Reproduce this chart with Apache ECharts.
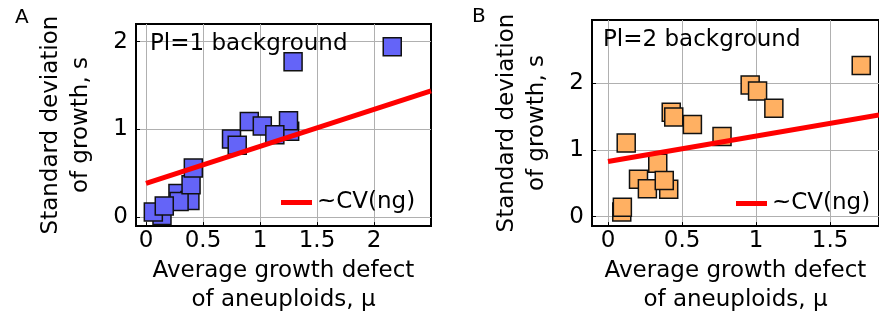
<!DOCTYPE html>
<html>
<head>
<meta charset="utf-8">
<script src="https://cdn.jsdelivr.net/npm/echarts@6/dist/echarts.min.js"></script>
<style>
html,body{margin:0;padding:0;background:#fff;}
#chart{width:879px;height:320px;}
</style>
</head>
<body>
<div id="chart"></div>
<script>
// Panel A (Pl=1 background)
const muA = [0.14, 0.064, 0.28, 0.385, 0.29, 0.16, 0.395, 0.415, 0.75, 0.80, 0.906, 1.02, 1.26, 1.25, 1.13, 1.29, 2.16];
const sA  = [0.02, 0.06, 0.27, 0.19, 0.18, 0.13, 0.37, 0.56, 0.89, 0.82, 1.09, 1.04, 0.98, 1.10, 0.94, 1.77, 1.94];
const fitAx = [0, 2.5];
const fitAy = [0.385, 1.44];
// Panel B (Pl=2 background)
const muB = [0.093, 0.097, 0.123, 0.336, 0.206, 0.41, 0.266, 0.38, 0.427, 0.444, 0.57, 0.77, 0.96, 1.01, 1.12, 1.71];
const sB  = [0.07, 0.14, 1.10, 0.80, 0.56, 0.41, 0.42, 0.54, 1.56, 1.49, 1.38, 1.20, 1.97, 1.88, 1.62, 2.26];
const fitBx = [0, 1.83];
const fitBy = [0.826, 1.52];
// Ticks
const xTicksA = [0, 0.5, 1, 1.5, 2];
const yTicksA = [0, 1, 2];
const xTicksB = [0, 0.5, 1, 1.5];
const yTicksB = [0, 1, 2];

const FONT = 'DejaVu Sans';
const FS = 23;
const zip = (a, b) => a.map((v, i) => [v, b[i]]);

function xAxisCfg(gi, min, max, ticks) {
  return {
    type: 'value', gridIndex: gi, min: min, max: max,
    name: 'Average growth defect\nof aneuploids, μ',
    nameLocation: 'middle', nameGap: 27,
    nameTextStyle: {fontFamily: FONT, fontSize: FS, color: '#000', lineHeight: 29},
    axisLine: {show: true, onZero: false, lineStyle: {color: '#000', width: 2}},
    axisTick: {show: true, inside: true, length: 4, customValues: ticks, lineStyle: {color: '#000'}},
    axisLabel: {customValues: ticks, margin: 3, fontFamily: FONT, fontSize: FS, color: '#000',
      formatter: v => String(v)},
    splitLine: {show: true, customValues: ticks, lineStyle: {color: '#b0b0b0', width: 1}}
  };
}
function yAxisCfg(gi, min, max, ticks) {
  return {
    type: 'value', gridIndex: gi, min: min, max: max,
    name: 'Standard deviation\nof growth, s',
    nameLocation: 'middle', nameGap: 40, nameRotate: 90,
    nameTextStyle: {fontFamily: FONT, fontSize: FS, color: '#000', lineHeight: 30},
    axisLine: {show: true, onZero: false, lineStyle: {color: '#000', width: 2}},
    axisTick: {show: true, inside: true, length: 4, customValues: ticks, lineStyle: {color: '#000'}},
    axisLabel: {customValues: ticks, margin: 8, fontFamily: FONT, fontSize: FS, color: '#000',
      formatter: v => String(v)},
    splitLine: {show: true, customValues: ticks, lineStyle: {color: '#b0b0b0', width: 1}}
  };
}

const chart = echarts.init(document.getElementById('chart'), null, {renderer: 'canvas'});
chart.setOption({
  animation: false,
  backgroundColor: '#fff',
  title: [
    {text: 'A', left: 10, top: 3, textStyle: {fontFamily: FONT, fontSize: 20, fontWeight: 'normal', color: '#000'}},
    {text: 'B', left: 467, top: 2, textStyle: {fontFamily: FONT, fontSize: 20, fontWeight: 'normal', color: '#000'}},
    {text: 'Pl=1 background', left: 145, top: 28, textStyle: {fontFamily: FONT, fontSize: FS, fontWeight: 'normal', color: '#000'}},
    {text: 'Pl=2 background', left: 598, top: 24, textStyle: {fontFamily: FONT, fontSize: FS, fontWeight: 'normal', color: '#000'}}
  ],
  grid: [
    {left: 136, top: 24, width: 295, height: 206, show: true, borderColor: '#000', borderWidth: 2, backgroundColor: 'transparent'},
    {left: 592, top: 20, width: 298, height: 207, show: true, borderColor: '#000', borderWidth: 2, backgroundColor: 'transparent'}
  ],
  xAxis: [xAxisCfg(0, -0.088, 2.5, xTicksA), xAxisCfg(1, -0.108, 1.83, xTicksB)],
  yAxis: [yAxisCfg(0, -0.1, 2.2, yTicksA), yAxisCfg(1, -0.14, 2.94, yTicksB)],
  legend: [
    {data: [{name: '~CV(ng)', icon: 'rect'}], left: 276, top: 186, itemWidth: 31, itemHeight: 5,
      textStyle: {fontFamily: FONT, fontSize: FS, color: '#000'}},
    {data: [{name: '~CV(ng)', icon: 'rect'}], left: 731, top: 187, itemWidth: 31, itemHeight: 5,
      textStyle: {fontFamily: FONT, fontSize: FS, color: '#000'}}
  ],
  series: [
    {type: 'scatter', name: 'Pl1', xAxisIndex: 0, yAxisIndex: 0, symbol: 'rect', symbolSize: 18,
      itemStyle: {color: '#6464f8', borderColor: '#111', borderWidth: 1.5, opacity: 1},
      data: zip(muA, sA)},
    {type: 'line', name: '~CV(ng)', xAxisIndex: 0, yAxisIndex: 0, showSymbol: false, symbol: 'none',
      color: '#ff0000', lineStyle: {color: '#ff0000', width: 5}, data: zip(fitAx, fitAy), z: 5},
    {type: 'scatter', name: 'Pl2', xAxisIndex: 1, yAxisIndex: 1, symbol: 'rect', symbolSize: 18,
      itemStyle: {color: '#ffb062', borderColor: '#111', borderWidth: 1.5, opacity: 1},
      data: zip(muB, sB)},
    {type: 'line', name: '~CV(ng)', xAxisIndex: 1, yAxisIndex: 1, showSymbol: false, symbol: 'none',
      color: '#ff0000', lineStyle: {color: '#ff0000', width: 5}, data: zip(fitBx, fitBy), z: 5}
  ]
});
</script>
</body>
</html>
